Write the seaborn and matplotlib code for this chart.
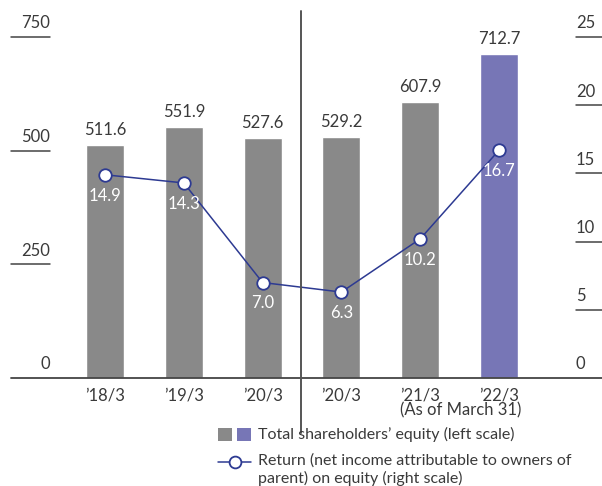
import matplotlib
matplotlib.use("Agg")
import matplotlib.pyplot as plt
import matplotlib.transforms as mtransforms
from matplotlib.patches import Rectangle
from matplotlib.lines import Line2D
import seaborn as sns
import pandas as pd

# ---- data ----
periods = ["’18/3", "’19/3", "’20/3", "’20/3", "’21/3", "’22/3"]
equity = [511.6, 551.9, 527.6, 529.2, 607.9, 712.7]      # billion yen, left scale
roe = [14.9, 14.3, 7.0, 6.3, 10.2, 16.7]                 # %, right scale
group = ["past", "past", "past", "past", "past", "latest"]
left_ticks = [0, 250, 500, 750]
right_ticks = [0, 5, 10, 15, 20, 25]

GRAY = "#898989"
PURPLE = "#7776b6"
NAVY = "#2d3a92"
TEXT = "#3a3a3a"

sns.set_theme(style="white")
plt.rcParams["font.family"] = ["Lato", "DejaVu Sans"]

W, H = 602, 486
fig = plt.figure(figsize=(W / 100, H / 100), dpi=100)

def fx(px):
    return px / W

def fy(py):
    return 1 - py / H

# axes box: baseline at y=378, top (750 / 25) at y=37, spans x=11..602
ax = fig.add_axes([fx(11), fy(378), fx(602) - fx(11), fy(37) - fy(378)])
df = pd.DataFrame({"pos": range(len(periods)), "equity": equity,
                   "roe": roe, "group": group})

sns.barplot(data=df, x="pos", y="equity", hue="group",
            palette={"past": GRAY, "latest": PURPLE}, native_scale=True,
            dodge=False, width=0.48, legend=False, ax=ax, saturation=1)
ax.set_ylim(0, 750)
first_px, step_px = 105, 78.8
ax.set_xlim((11 - first_px) / step_px, (602 - first_px) / step_px)

ax2 = ax.twinx()
sns.lineplot(data=df, x="pos", y="roe", color=NAVY, lw=1.1, marker="o",
             markersize=9, markerfacecolor="white", markeredgecolor=NAVY,
             markeredgewidth=1.3, ax=ax2, zorder=5)
ax2.set_ylim(0, 25)
ax2.set_xlim(ax.get_xlim())

for a in (ax, ax2):
    for s in a.spines.values():
        s.set_visible(False)
    a.set_xticks([])
    a.set_yticks([])
    a.set_xlabel("")
    a.set_ylabel("")

# bar value labels
for i, v in enumerate(equity):
    ax.annotate(f"{v:.1f}", (i, v), xytext=(0, 5), textcoords="offset points",
                ha="center", va="bottom", fontsize=12, color=TEXT)

# ROE labels below markers
for i, v in enumerate(roe):
    ax2.annotate(f"{v:.1f}", (i, v), xytext=(0, -15), textcoords="offset points",
                 ha="center", va="center", fontsize=12, color="white", zorder=6)

# custom axis scales: short rules with labels sitting above them
tl = mtransforms.blended_transform_factory(fig.transFigure, ax.transData)
tr = mtransforms.blended_transform_factory(fig.transFigure, ax2.transData)
for t in left_ticks:
    if t > 0:
        ax.plot([fx(11), fx(50)], [t, t], transform=tl, color="#444444",
                lw=1.1, clip_on=False)
    ax.annotate(str(t), (fx(50), t), xycoords=tl, xytext=(0, 4),
                textcoords="offset points", ha="right", va="bottom",
                fontsize=12, color=TEXT, annotation_clip=False)
for t in right_ticks:
    if t > 0:
        ax2.plot([fx(576), fx(602)], [t, t], transform=tr, color="#444444",
                 lw=1.1, clip_on=False)
    ax2.annotate(str(t), (fx(576), t), xycoords=tr, xytext=(0, 4),
                 textcoords="offset points", ha="left", va="bottom",
                 fontsize=12, color=TEXT, annotation_clip=False)

# baseline and divider between accounting standards
fig.add_artist(Line2D([fx(11), fx(602)], [fy(378), fy(378)], color="#444444", lw=1.3))
fig.add_artist(Line2D([fx(301), fx(301)], [fy(11), fy(433)], color="#555555", lw=1.4))

# period labels
tx = mtransforms.blended_transform_factory(ax.transData, fig.transFigure)
for i, p in enumerate(periods):
    ax.text(i, fy(395), p, transform=tx, ha="center", va="center",
            fontsize=12, color=TEXT)
fig.text(fx(461), fy(410), "(As of March 31)", ha="center", va="center",
         fontsize=12, color=TEXT)

# legend
fig.add_artist(Rectangle((fx(218), fy(441)), fx(14), fy(0) - fy(13),
                         facecolor=GRAY, edgecolor="none"))
fig.add_artist(Rectangle((fx(237), fy(441)), fx(14), fy(0) - fy(13),
                         facecolor=PURPLE, edgecolor="none"))
fig.text(fx(258), fy(434), "Total shareholders’ equity (left scale)",
         ha="left", va="center", fontsize=11.5, color=TEXT)
fig.add_artist(Line2D([fx(218), fx(251)], [fy(462), fy(462)], color=NAVY, lw=1.1))
fig.add_artist(Line2D([fx(234.5)], [fy(462)], marker="o", markersize=8.5,
                      markerfacecolor="white", markeredgecolor=NAVY,
                      markeredgewidth=1.3))
fig.text(fx(258), fy(461), "Return (net income attributable to owners of",
         ha="left", va="center", fontsize=11.5, color=TEXT)
fig.text(fx(258), fy(478), "parent) on equity (right scale)",
         ha="left", va="center", fontsize=11.5, color=TEXT)

fig.savefig("out.png", dpi=100)
